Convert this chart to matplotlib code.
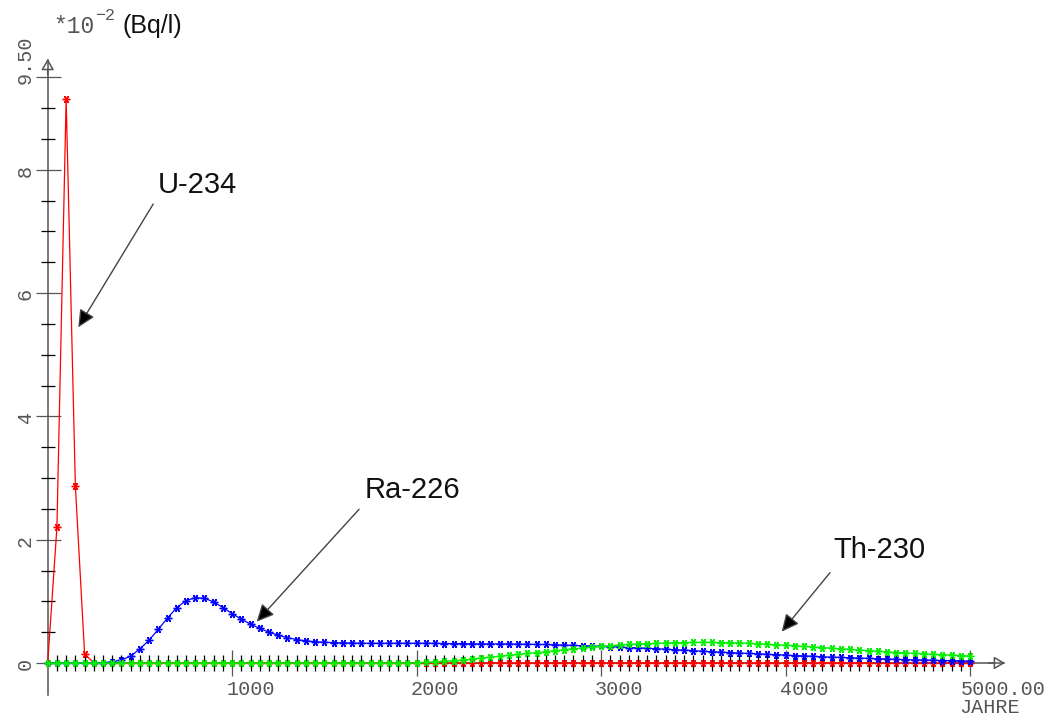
import matplotlib
matplotlib.use("Agg")
import matplotlib.pyplot as plt
import numpy as np

# ---- data: activity concentration in units of 1e-2 Bq/l, sampled every 50 years ----
years = np.arange(0, 5001, 50)

u234 = [
    0.00, 2.20, 9.15, 2.87, 0.15, 0.00, 0.00, 0.00, 0.00, 0.00,   # 0 - 450
    0.00, 0.00, 0.00, 0.00, 0.00, 0.00, 0.00, 0.00, 0.00, 0.00,   # 500 - 950
    0.00, 0.00, 0.00, 0.00, 0.00, 0.00, 0.00, 0.00, 0.00, 0.00,   # 1000 - 1450
    0.00, 0.00, 0.00, 0.00, 0.00, 0.00, 0.00, 0.00, 0.00, 0.00,   # 1500 - 1950
    0.00, 0.00, 0.00, 0.00, 0.00, 0.00, 0.00, 0.00, 0.00, 0.00,   # 2000 - 2450
    0.00, 0.00, 0.00, 0.00, 0.00, 0.00, 0.00, 0.00, 0.00, 0.00,   # 2500 - 2950
    0.00, 0.00, 0.00, 0.00, 0.00, 0.00, 0.00, 0.00, 0.00, 0.00,   # 3000 - 3450
    0.00, 0.00, 0.00, 0.00, 0.00, 0.00, 0.00, 0.00, 0.00, 0.00,   # 3500 - 3950
    0.00, 0.00, 0.00, 0.00, 0.00, 0.00, 0.00, 0.00, 0.00, 0.00,   # 4000 - 4450
    0.00, 0.00, 0.00, 0.00, 0.00, 0.00, 0.00, 0.00, 0.00, 0.00,   # 4500 - 4950
    0.00,                                                         # 5000
]

ra226 = [
    0.00, 0.00, 0.00, 0.00, 0.00, 0.00, 0.005, 0.02, 0.05, 0.11,
    0.23, 0.37, 0.55, 0.73, 0.90, 1.01, 1.06, 1.05, 0.99, 0.90,
    0.80, 0.71, 0.63, 0.56, 0.50, 0.45, 0.41, 0.38, 0.36, 0.345,
    0.335, 0.33, 0.325, 0.325, 0.32, 0.32, 0.32, 0.32, 0.32, 0.32,
    0.32, 0.32, 0.32, 0.315, 0.315, 0.315, 0.31, 0.31, 0.31, 0.31,
    0.31, 0.305, 0.305, 0.30, 0.30, 0.295, 0.29, 0.285, 0.28, 0.275,
    0.27, 0.265, 0.26, 0.25, 0.245, 0.24, 0.23, 0.225, 0.215, 0.21,
    0.20, 0.19, 0.185, 0.175, 0.17, 0.16, 0.155, 0.15, 0.14, 0.135,
    0.13, 0.12, 0.115, 0.11, 0.10, 0.095, 0.09, 0.085, 0.08, 0.075,
    0.07, 0.065, 0.06, 0.055, 0.05, 0.05, 0.045, 0.04, 0.04, 0.035,
    0.03,
]

th230 = [
    0.00, 0.00, 0.00, 0.00, 0.00, 0.00, 0.00, 0.00, 0.00, 0.00,
    0.00, 0.00, 0.00, 0.00, 0.00, 0.00, 0.00, 0.00, 0.00, 0.00,
    0.00, 0.00, 0.00, 0.00, 0.00, 0.00, 0.00, 0.00, 0.00, 0.00,
    0.00, 0.00, 0.00, 0.00, 0.00, 0.00, 0.00, 0.00, 0.00, 0.00,
    0.005, 0.01, 0.02, 0.03, 0.04, 0.05, 0.065, 0.08, 0.095, 0.11,
    0.125, 0.14, 0.155, 0.17, 0.185, 0.20, 0.215, 0.23, 0.245, 0.26,
    0.27, 0.28, 0.29, 0.30, 0.31, 0.315, 0.32, 0.325, 0.33, 0.33,
    0.335, 0.335, 0.335, 0.33, 0.33, 0.325, 0.32, 0.31, 0.305, 0.295,
    0.29, 0.28, 0.27, 0.26, 0.25, 0.24, 0.23, 0.22, 0.21, 0.20,
    0.19, 0.18, 0.17, 0.165, 0.155, 0.15, 0.14, 0.135, 0.13, 0.12,
    0.115,
]

x_major = [1000, 2000, 3000, 4000]
x_major_labels = ["1000", "2000", "3000", "4000"]
x_end, x_end_label = 5000, "5000.00"
y_major = [0, 2, 4, 6, 8, 9.5]
y_major_labels = ["0", "2", "4", "6", "8", "9.50"]

# ---- styling ----
AXIS = "#555555"
LABEL_GRAY = "#555555"
MONO = "Liberation Mono"
SANS = "Liberation Sans"

fig = plt.figure(figsize=(10.5, 7.17), dpi=100)
ax = fig.add_axes([0, 0, 1, 1])
ax.set_xlim(-258.6, 5433.7)
ax.set_ylim(-0.876, 10.754)

for side in ("top", "right"):
    ax.spines[side].set_visible(False)
for side in ("left", "bottom"):
    ax.spines[side].set_position(("data", 0))
    ax.spines[side].set_color(AXIS)
    ax.spines[side].set_linewidth(1.1)
    ax.spines[side].set_zorder(1)
ax.spines["left"].set_bounds(-0.52, 9.78)
ax.spines["bottom"].set_bounds(0, 5185)

ax.set_xticks(x_major + [x_end])
ax.set_xticks([m for m in range(50, 5000, 50) if m % 1000], minor=True)
ax.set_yticks(y_major)
ax.set_yticks([v for v in np.arange(0.5, 9.5, 0.5) if v % 2], minor=True)
ax.tick_params(labelbottom=False, labelleft=False, colors=AXIS)
ax.tick_params(axis="x", which="major", direction="inout", length=18.5, width=0.9)
ax.tick_params(axis="x", which="minor", direction="inout", length=11, width=0.9)
ax.tick_params(axis="y", which="major", direction="inout", length=18, width=0.9)
ax.tick_params(axis="y", which="minor", direction="inout", length=9.5, width=0.9)

# open arrowheads at the axis ends
head = dict(arrowstyle="-|>,head_length=0.55,head_width=0.32", fc="white",
            ec=AXIS, lw=1.1, mutation_scale=12, shrinkA=0, shrinkB=0)
ax.annotate("", xy=(0, 9.80), xytext=(0, 9.55), arrowprops=head, zorder=1)
ax.annotate("", xy=(5190, 0), xytext=(5100, 0), arrowprops=head, zorder=1)

# tick labels
for xv, lab in zip(x_major, x_major_labels):
    ax.annotate(lab, xy=(xv, 0), xytext=(-6, -32), textcoords="offset pixels",
                ha="left", va="baseline", fontfamily=MONO, fontsize=14.5,
                color=LABEL_GRAY)
ax.annotate(x_end_label, xy=(x_end, 0), xytext=(-9, -32), textcoords="offset pixels",
            ha="left", va="baseline", fontfamily=MONO, fontsize=14.5, color=LABEL_GRAY)
ax.annotate("JAHRE", xy=(x_end, 0), xytext=(-11, -50), textcoords="offset pixels",
            ha="left", va="baseline", fontfamily=MONO, fontsize=14.5, color=LABEL_GRAY)
for yv, lab in zip(y_major, y_major_labels):
    ax.annotate(lab, xy=(0, yv), xytext=(-17, -7), textcoords="offset pixels",
                ha="left", va="baseline", rotation=90, rotation_mode="anchor",
                fontfamily=MONO, fontsize=14.5, color=LABEL_GRAY)

# unit label
fig.text(53 / 1050, 1 - 33 / 717, "*10", fontfamily=MONO, fontsize=16.5,
         color=LABEL_GRAY, va="baseline")
fig.text(95 / 1050, 1 - 20 / 717, "\u22122", fontfamily=MONO, fontsize=12,
         color=LABEL_GRAY, va="baseline")
fig.text(122 / 1050, 1 - 33 / 717, "(Bq/l)", fontfamily=SANS, fontsize=18,
         color="#111111", va="baseline")

# curves
marker = (6, 2, 90)
series = [(u234, "#ff0000", 3), (ra226, "#0000ff", 4), (th230, "#00f000", 5)]
for vals, col, z in series:
    ax.plot(years, vals, color=col, lw=0.9, marker=marker, ms=5.5, mew=1.0,
            mec=col, zorder=z, clip_on=False)

# nuclide annotations
arrow = dict(arrowstyle="-|>,head_length=0.75,head_width=0.36", fc="black",
             ec="#444444", lw=1.0, mutation_scale=14, shrinkA=0, shrinkB=0)
notes = [
    ("U-234", (598, 7.62), (572, 7.445), (166, 5.445)),
    ("Ra-226", (1720, 2.676), (1688, 2.493), (1133, 0.67)),
    ("Th-230", (4257, 1.703), (4241, 1.465), (3979, 0.508)),
]
for name, txt_pos, tail, tip in notes:
    ax.text(*txt_pos, name, fontfamily=SANS, fontsize=21, color="#111111",
            ha="left", va="baseline")
    ax.annotate("", xy=tip, xytext=tail, arrowprops=arrow, zorder=6)

fig.savefig("out.png", dpi=100, facecolor="white")
